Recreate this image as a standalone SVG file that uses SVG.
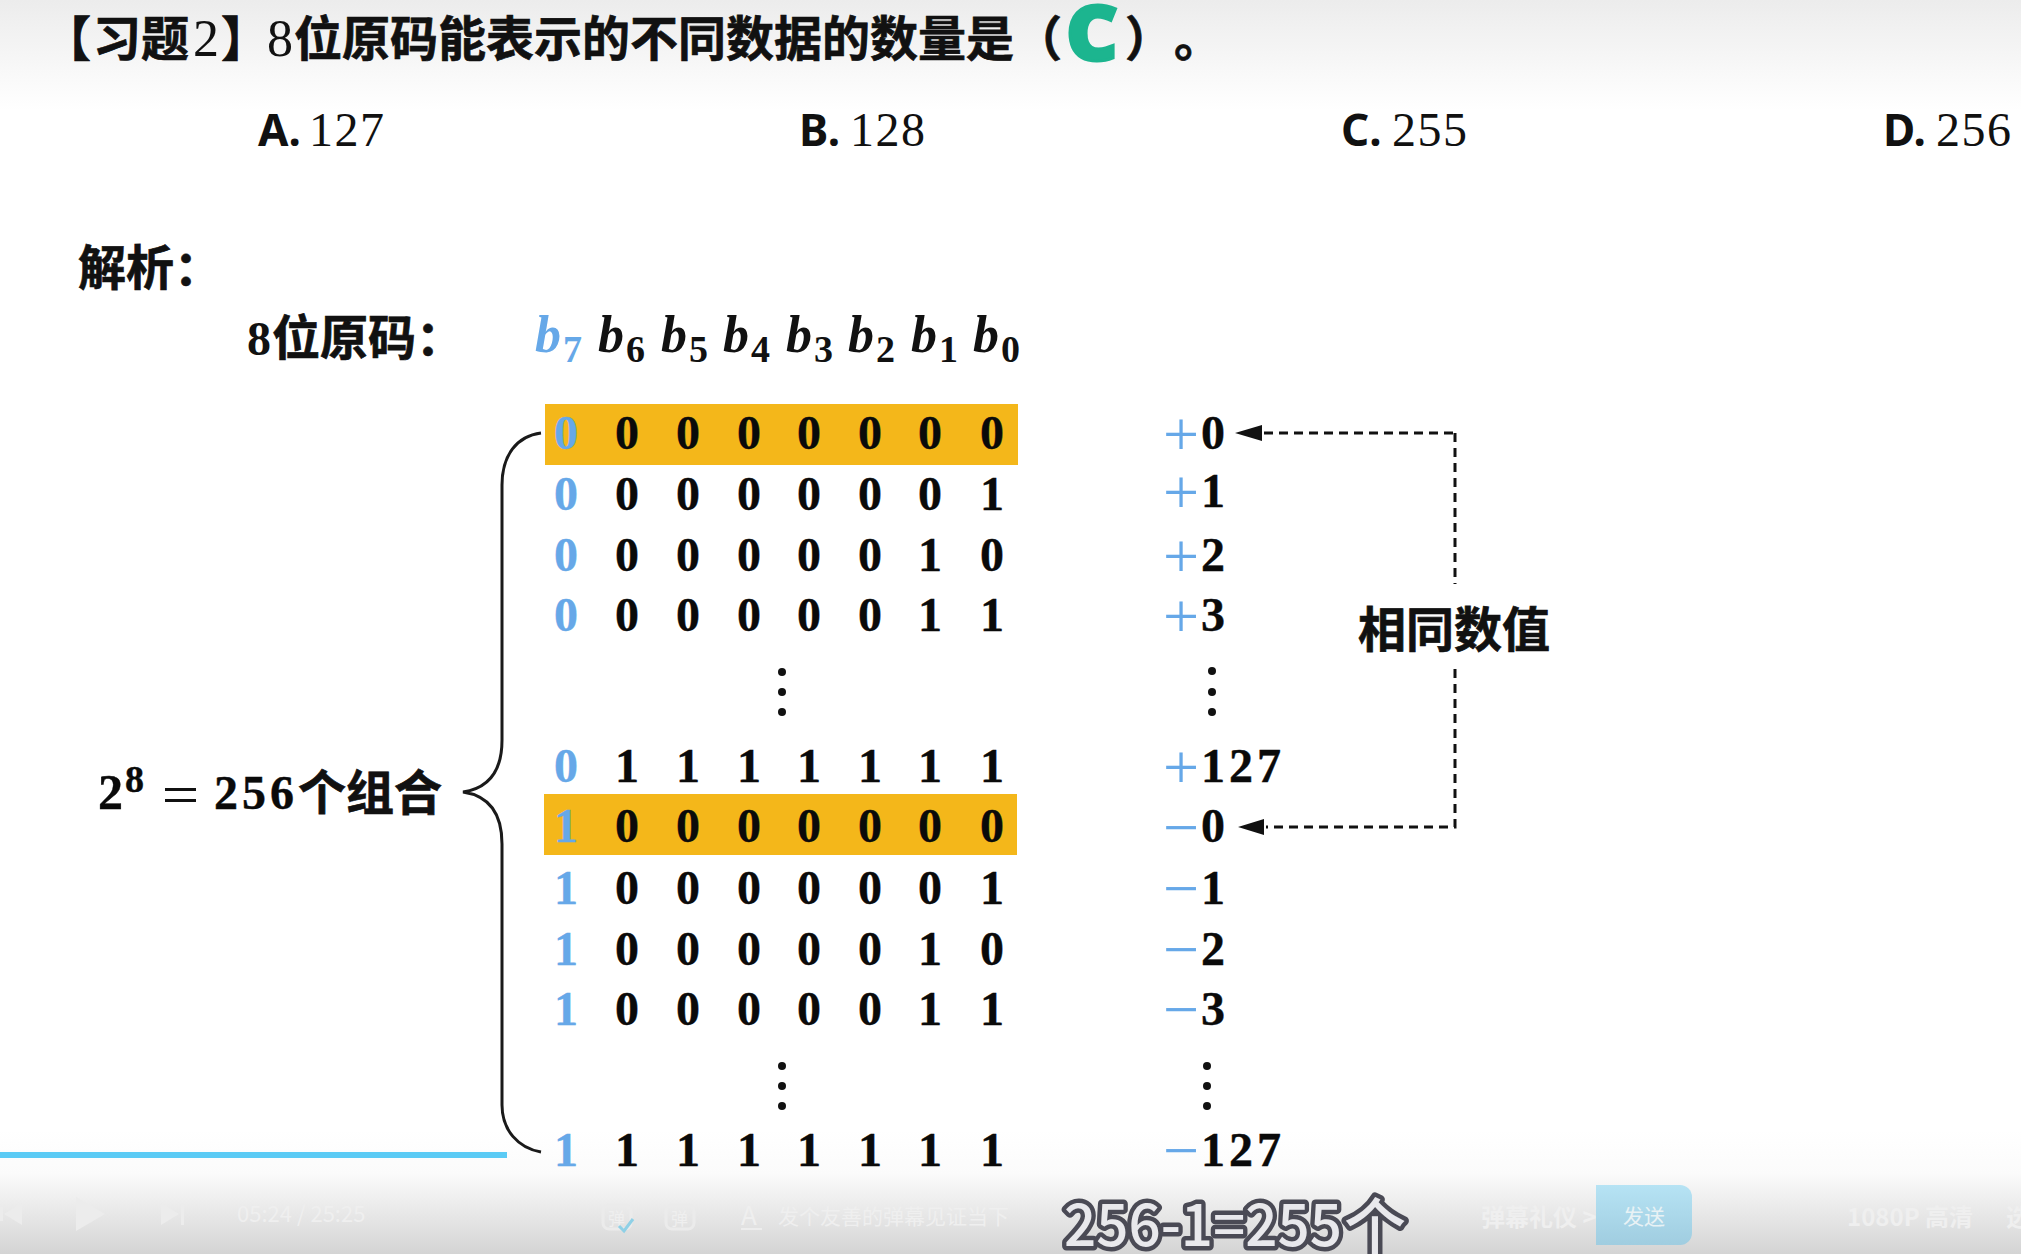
<svg xmlns="http://www.w3.org/2000/svg" width="2021" height="1254" viewBox="0 0 2021 1254">
<style>
.cjk{font-family:"Noto Sans CJK SC","Noto Sans",sans-serif;font-weight:700;font-size:48px;fill:#111;stroke:#111;stroke-width:.7}
.sr{font-family:"Liberation Serif",serif;font-size:48px;fill:#111;letter-spacing:1.5px}
.d{font-family:"Liberation Serif",serif;font-weight:700;font-size:48px;fill:#0a0a0a;text-anchor:middle;stroke:#0a0a0a;stroke-width:.4}
.n{font-family:"Liberation Serif",serif;font-weight:700;font-size:48px;fill:#0a0a0a;stroke:#0a0a0a;stroke-width:.4}
.b0{fill:#66a8e8;stroke:#66a8e8}
.sg{font-family:"Liberation Serif",serif;font-size:64px;fill:#66a8e8}
.opt{font-family:"Noto Sans",sans-serif;font-weight:700;font-size:44px;fill:#111}
.b{font-family:"Liberation Serif",serif;font-weight:700;font-style:italic;font-size:52px;fill:#111}
.s{font-family:"Liberation Serif",serif;font-weight:700;font-size:38px;fill:#111}
.hl{fill:#f4b71a}
.dash{fill:none;stroke:#111;stroke-width:3;stroke-dasharray:9 6}
.dot{fill:#111}
.fade{font-family:"Noto Sans CJK SC","Noto Sans",sans-serif;fill:#efefef}
.ico{fill:#ececec}
.ol{fill:none;stroke:#ebebeb;stroke-width:3}
</style>
<defs>
<linearGradient id="top" x1="0" y1="0" x2="0" y2="1"><stop offset="0" stop-color="#ececec"/><stop offset="1" stop-color="#fff"/></linearGradient>
<linearGradient id="bot" x1="0" y1="0" x2="0" y2="1"><stop offset="0" stop-color="#fff"/><stop offset="0.35" stop-color="#fbfbfb"/><stop offset="1" stop-color="#d4d4d4"/></linearGradient>
<linearGradient id="btn" x1="0" y1="0" x2="0" y2="1"><stop offset="0" stop-color="#b6e3f4"/><stop offset="1" stop-color="#a0cde0"/></linearGradient>
</defs>
<rect width="2021" height="1254" fill="#fff"/>
<rect width="2021" height="110" fill="url(#top)"/>
<rect x="0" y="1130" width="2021" height="124" fill="url(#bot)"/>
<rect x="0" y="1152" width="507" height="6" fill="#5bcbf5"/>

<g id="title">
<text class="cjk" x="43" y="56">【</text>
<text class="cjk" x="93" y="56">习题</text>
<text class="sr" x="193" y="56" style="font-size:52px">2</text>
<text class="cjk" x="221" y="56">】</text>
<text class="sr" x="267" y="56" style="font-size:52px">8</text>
<text class="cjk" x="294" y="56">位原码能表示的不同数据的数量是</text>
<text class="cjk" x="1014" y="56">（</text>
<text x="1066" y="60" font-family="'Noto Sans',sans-serif" font-weight="900" font-size="76" fill="#1cb58f" stroke="#1cb58f" stroke-width="3" textLength="52" lengthAdjust="spacingAndGlyphs">C</text>
<text class="cjk" x="1125" y="56">）</text>
<text class="cjk" x="1174" y="56">。</text>
</g>

<g id="options">
<g id="opt-a"><text class="opt" x="258" y="146">A.</text><text class="sr" x="309" y="146">127</text></g>
<g id="opt-b"><text class="opt" x="799" y="146">B.</text><text class="sr" x="850" y="146">128</text></g>
<g id="opt-c"><text class="opt" x="1341" y="146">C.</text><text class="sr" x="1392" y="146">255</text></g>
<g id="opt-d"><text class="opt" x="1883" y="146">D.</text><text class="sr" x="1936" y="146">256</text></g>
</g>

<g id="analysis"><text class="cjk" x="78" y="285">解析：</text></g>

<g id="bit-header">
<text class="sr" x="247" y="355" font-weight="700">8</text>
<text class="cjk" x="272" y="355">位原码：</text>
<text class="b" x="535" y="352" style="fill:#66a8e8">b</text><text class="s" x="563" y="362" style="fill:#66a8e8">7</text>
<text class="b" x="598" y="352">b</text><text class="s" x="626" y="362">6</text>
<text class="b" x="661" y="352">b</text><text class="s" x="689" y="362">5</text>
<text class="b" x="723" y="352">b</text><text class="s" x="751" y="362">4</text>
<text class="b" x="786" y="352">b</text><text class="s" x="814" y="362">3</text>
<text class="b" x="848" y="352">b</text><text class="s" x="876" y="362">2</text>
<text class="b" x="911" y="352">b</text><text class="s" x="939" y="362">1</text>
<text class="b" x="973" y="352">b</text><text class="s" x="1001" y="362">0</text>
</g>

<rect class="hl" x="545" y="404" width="473" height="61"/>
<rect class="hl" x="544" y="794" width="473" height="61"/>

<g id="rows">
<g id="r0"><text class="d b0" x="566" y="449">0</text><text class="d" x="627 688 749 809 870 930 992" y="449">0000000</text></g>
<g id="r1"><text class="d b0" x="566" y="510">0</text><text class="d" x="627 688 749 809 870 930 992" y="510">0000001</text></g>
<g id="r2"><text class="d b0" x="566" y="571">0</text><text class="d" x="627 688 749 809 870 930 992" y="571">0000010</text></g>
<g id="r3"><text class="d b0" x="566" y="631">0</text><text class="d" x="627 688 749 809 870 930 992" y="631">0000011</text></g>
<g id="r4"><text class="d b0" x="566" y="782">0</text><text class="d" x="627 688 749 809 870 930 992" y="782">1111111</text></g>
<g id="r5"><text class="d b0" x="566" y="842">1</text><text class="d" x="627 688 749 809 870 930 992" y="842">0000000</text></g>
<g id="r6"><text class="d b0" x="566" y="904">1</text><text class="d" x="627 688 749 809 870 930 992" y="904">0000001</text></g>
<g id="r7"><text class="d b0" x="566" y="965">1</text><text class="d" x="627 688 749 809 870 930 992" y="965">0000010</text></g>
<g id="r8"><text class="d b0" x="566" y="1025">1</text><text class="d" x="627 688 749 809 870 930 992" y="1025">0000011</text></g>
<g id="r9"><text class="d b0" x="566" y="1166">1</text><text class="d" x="627 688 749 809 870 930 992" y="1166">1111111</text></g>
</g>

<g id="values">
<text class="sg" x="1163" y="456">+</text><text class="n" x="1201" y="449">0</text>
<text class="sg" x="1163" y="514">+</text><text class="n" x="1201" y="507">1</text>
<text class="sg" x="1163" y="578">+</text><text class="n" x="1201" y="571">2</text>
<text class="sg" x="1163" y="638">+</text><text class="n" x="1201" y="631">3</text>
<text class="sg" x="1163" y="789">+</text><text class="n" x="1201" y="782" letter-spacing="4">127</text>
<text class="sg" x="1163" y="849">−</text><text class="n" x="1201" y="842">0</text>
<text class="sg" x="1163" y="910">−</text><text class="n" x="1201" y="904">1</text>
<text class="sg" x="1163" y="971">−</text><text class="n" x="1201" y="965">2</text>
<text class="sg" x="1163" y="1031">−</text><text class="n" x="1201" y="1025">3</text>
<text class="sg" x="1163" y="1172">−</text><text class="n" x="1201" y="1166" letter-spacing="4">127</text>
</g>

<g id="ellipses">
<circle class="dot" cx="782" cy="672" r="4"/><circle class="dot" cx="782" cy="692" r="4"/><circle class="dot" cx="782" cy="712" r="4"/>
<circle class="dot" cx="1212" cy="671" r="4"/><circle class="dot" cx="1212" cy="692" r="4"/><circle class="dot" cx="1212" cy="712" r="4"/>
<circle class="dot" cx="782" cy="1066" r="4"/><circle class="dot" cx="782" cy="1086" r="4"/><circle class="dot" cx="782" cy="1106" r="4"/>
<circle class="dot" cx="1207" cy="1066" r="4"/><circle class="dot" cx="1207" cy="1086" r="4"/><circle class="dot" cx="1207" cy="1106" r="4"/>
</g>

<g id="connectors">
<path d="M541 433C517 436 502 455 502 485V740C502 770 490 788 463 792C490 796 502 814 502 844V1105C502 1130 518 1148 541 1152" fill="none" stroke="#1a1a1a" stroke-width="3"/>
<path class="dash" d="M1264 433H1456M1455 433V584"/>
<path class="dash" d="M1455 669V827H1266"/>
<polygon class="dot" points="1235,433 1262,425 1262,441"/>
<polygon class="dot" points="1238,827 1264,819 1264,835"/>
</g>

<g id="same-label"><text class="cjk" x="1358" y="647">相同数值</text></g>

<g id="combo">
<text class="n" x="98" y="809" style="font-size:50px">2</text>
<text class="n" x="125" y="792" style="font-size:38px">8</text>
<rect x="165" y="788" width="31" height="3" fill="#111"/><rect x="165" y="799" width="31" height="3" fill="#111"/>
<text class="n" x="214" y="809" letter-spacing="4">256</text>
<text class="cjk" x="298" y="810">个组合</text>
</g>

<g id="player">
<path class="ico" d="M22 1203V1225L4 1214ZM0 1207V1221H3V1207Z"/>
<path class="ico" d="M76 1197V1231L105 1214Z"/>
<path class="ico" d="M161 1203V1225L179 1214ZM181 1203V1225H184V1203Z"/>
<text class="fade" x="237" y="1222" font-size="22">05:24 / 25:25</text>
<rect class="ol" x="603" y="1205" width="28" height="24" rx="6"/>
<text class="fade" x="608" y="1225" font-size="17">弹</text>
<path d="M619 1226L624 1231L633 1219" fill="none" stroke="#8fd0e6" stroke-width="3"/>
<rect class="ol" x="666" y="1205" width="28" height="24" rx="6"/>
<text class="fade" x="671" y="1225" font-size="17">弹</text>
<text class="fade" x="741" y="1225" font-size="26">A</text>
<rect x="741" y="1228" width="21" height="2" fill="#ededed"/>
<text class="fade" x="778" y="1224" font-size="21">发个友善的弹幕见证当下</text>
<text class="fade" x="1481" y="1226" font-size="24" font-weight="700">弹幕礼仪 &gt;</text>
<path d="M1596 1185H1680A12 12 0 0 1 1692 1197V1233A12 12 0 0 1 1680 1245H1596Z" fill="url(#btn)"/>
<text x="1623" y="1224" font-family="'Noto Sans CJK SC',sans-serif" font-size="21" fill="#e8f2f5">发送</text>
<text class="fade" x="1847" y="1226" font-size="24" font-weight="700">1080P 高清</text>
<text class="fade" x="2006" y="1226" font-size="24" font-weight="700">选</text>
</g>

<g id="subtitle" font-family="'Noto Sans CJK SC','Noto Sans',sans-serif" font-weight="500" fill="#e8e8ec" stroke="#4a4a55" stroke-width="9" paint-order="stroke" stroke-linejoin="round">
<text x="1064" y="1246" font-size="58" textLength="278" lengthAdjust="spacingAndGlyphs">256-1=255</text>
<text x="1344" y="1250" font-size="62">个</text>
</g>
</svg>
